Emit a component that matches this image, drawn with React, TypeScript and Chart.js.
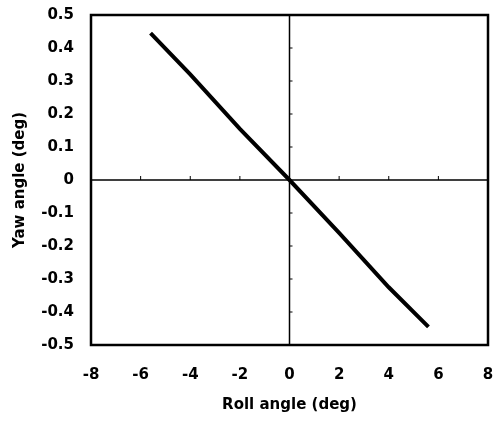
import React, { useEffect, useRef } from "react";
import { Chart, registerables } from "chart.js";

Chart.register(...registerables);

const rollAngle = [-5.6, -4, -2, 0, 2, 4, 5.6];
const yawAngle = [0.445, 0.32, 0.155, 0, -0.16, -0.325, -0.445];
const xTicks = [-8, -6, -4, -2, 0, 2, 4, 6, 8];
const yTicks = [-0.5, -0.4, -0.3, -0.2, -0.1, 0, 0.1, 0.2, 0.3, 0.4, 0.5];

const FONT = "'DejaVu Sans', sans-serif";

const framePlugin = {
  id: "frameAndZeroAxes",
  beforeDatasetsDraw(chart: any) {
    const { ctx, chartArea, scales } = chart;
    const x = scales.x;
    const y = scales.y;
    const x0 = x.getPixelForValue(0);
    const y0 = y.getPixelForValue(0);
    ctx.save();
    ctx.strokeStyle = "#000";
    ctx.lineWidth = 1.5;
    ctx.beginPath();
    ctx.moveTo(chartArea.left, y0);
    ctx.lineTo(chartArea.right, y0);
    ctx.moveTo(x0, chartArea.top);
    ctx.lineTo(x0, chartArea.bottom);
    ctx.stroke();
    ctx.lineWidth = 1;
    ctx.beginPath();
    xTicks.forEach((v) => {
      if (v === 0 || v === xTicks[0] || v === xTicks[xTicks.length - 1]) return;
      const px = x.getPixelForValue(v);
      ctx.moveTo(px, y0);
      ctx.lineTo(px, y0 - 4);
    });
    yTicks.forEach((v) => {
      if (v === 0 || v === yTicks[0] || v === yTicks[yTicks.length - 1]) return;
      const py = y.getPixelForValue(v);
      ctx.moveTo(x0, py);
      ctx.lineTo(x0 + 3, py);
    });
    ctx.stroke();
    ctx.restore();
  },
  afterDraw(chart: any) {
    const { ctx, chartArea } = chart;
    ctx.save();
    ctx.strokeStyle = "#000";
    ctx.lineWidth = 2.5;
    ctx.strokeRect(
      chartArea.left,
      chartArea.top,
      chartArea.right - chartArea.left,
      chartArea.bottom - chartArea.top
    );
    ctx.restore();
  },
};

export default function App() {
  const ref = useRef<HTMLCanvasElement | null>(null);
  useEffect(() => {
    if (!ref.current) return;
    const chart = new Chart(ref.current, {
      type: "scatter",
      data: {
        datasets: [
          {
            data: rollAngle.map((v, i) => ({ x: v, y: yawAngle[i] })),
            showLine: true,
            borderColor: "#000",
            borderWidth: 4,
            pointRadius: 0,
            tension: 0,
          },
        ],
      },
      options: {
        animation: false,
        responsive: false,
        plugins: { legend: { display: false }, tooltip: { enabled: false } },
        layout: { padding: { left: 0, right: 10, top: 15, bottom: 0 } },
        scales: {
          x: {
            type: "linear",
            min: -8,
            max: 8,
            afterBuildTicks: (s: any) => {
              s.ticks = xTicks.map((v) => ({ value: v }));
            },
            afterFit: (s: any) => {
              s.height = 78;
              s.paddingLeft = 0;
              s.paddingRight = 0;
            },
            grid: { display: false, drawTicks: false },
            border: { display: false },
            ticks: {
              color: "#000",
              padding: 21,
              font: { family: FONT, size: 15, weight: "bold" },
              callback: (v: any) => String(v),
            },
            title: {
              display: true,
              text: "Roll angle (deg)",
              color: "#000",
              font: { family: FONT, size: 15, weight: "bold" },
              padding: { top: 0, bottom: 9 },
            },
          },
          y: {
            type: "linear",
            min: -0.5,
            max: 0.5,
            afterBuildTicks: (s: any) => {
              s.ticks = yTicks.map((v) => ({ value: v }));
            },
            afterFit: (s: any) => {
              s.width = 91;
              s.paddingTop = 0;
              s.paddingBottom = 0;
            },
            grid: { display: false, drawTicks: false },
            border: { display: false },
            ticks: {
              color: "#000",
              padding: 17,
              font: { family: FONT, size: 15, weight: "bold" },
              callback: (v: any) => (Math.abs(v) < 1e-9 ? "0" : Number(v).toFixed(1)),
            },
            title: {
              display: true,
              text: "Yaw angle (deg)",
              color: "#000",
              font: { family: FONT, size: 15, weight: "bold" },
              padding: { top: 11, bottom: 0 },
            },
          },
        },
      },
      plugins: [framePlugin],
    });
    return () => chart.destroy();
  }, []);
  return (
    <div style={{ position: "absolute", left: 0, top: 0, width: 498, height: 423, background: "#fff" }}>
      <canvas ref={ref} width={498} height={423} style={{ display: "block" }} />
    </div>
  );
}
